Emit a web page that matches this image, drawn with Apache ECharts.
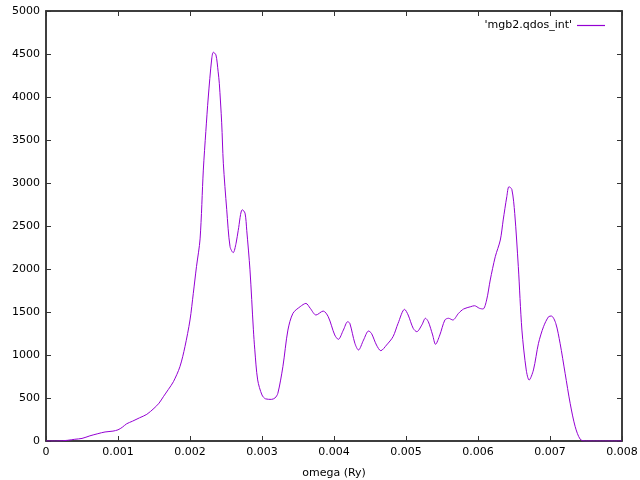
<!DOCTYPE html>
<html>
<head>
<meta charset="utf-8">
<script src="https://cdn.jsdelivr.net/npm/echarts@6/dist/echarts.min.js"></script>
<style>
  html, body { margin: 0; padding: 0; background: #fff; }
  #chart { width: 640px; height: 480px; }
</style>
</head>
<body>
<div id="chart"></div>
<script>
// omega in Ry
const omega = [
  0, 0.00015, 0.0003, 0.0004, 0.0005, 0.00061, 0.00072, 0.00082, 0.00093, 0.001,
  0.00106, 0.00112, 0.0012, 0.0013, 0.0014, 0.0015, 0.00157, 0.00163, 0.0017, 0.00177,
  0.00186, 0.00193, 0.002, 0.002046, 0.00209, 0.00214, 0.002185, 0.00222, 0.002254, 0.0023,
  0.002324, 0.00236, 0.00239, 0.002407, 0.00244, 0.002463, 0.00251, 0.002556, 0.0026, 0.00264,
  0.00267, 0.002726, 0.002764, 0.002788, 0.002833, 0.00288, 0.0029, 0.00294, 0.003, 0.00305,
  0.00313, 0.00318, 0.00322, 0.00329, 0.00336, 0.00343, 0.00353, 0.00361, 0.00367, 0.00375,
  0.00385, 0.00392, 0.00401, 0.00406, 0.00413, 0.00419, 0.00422, 0.00429, 0.00434, 0.00441,
  0.00448, 0.00452, 0.00459, 0.00465, 0.00473, 0.00482, 0.00489, 0.00498, 0.00503, 0.0051,
  0.00515, 0.00522, 0.00527, 0.00531, 0.00537, 0.00541, 0.00547, 0.00554, 0.00559, 0.00565,
  0.00573, 0.0058, 0.0059, 0.00595, 0.00602, 0.00607, 0.00612, 0.00617, 0.00624, 0.00631,
  0.00635, 0.0064, 0.00643, 0.00647, 0.00651, 0.00656, 0.00661, 0.00667, 0.00671, 0.00677,
  0.00684, 0.00691, 0.00698, 0.00702, 0.00708, 0.00714, 0.00721, 0.00728, 0.00735, 0.00742,
  0.00749, 0.008
];
const qdosInt = [
  0, 0, 8, 20, 30, 60, 85, 105, 115, 130,
  160, 200, 230, 270, 310, 380, 440, 515, 600, 690,
  864, 1097, 1407, 1717, 2027, 2350, 3150, 3600, 4000, 4430,
  4520, 4490, 4300, 4160, 3700, 3230, 2690, 2260, 2190, 2300,
  2450, 2690, 2650, 2450, 1990, 1300, 1060, 710, 535, 490,
  484, 500, 554, 864, 1290, 1485, 1562, 1600, 1543, 1465,
  1511, 1445, 1233, 1182, 1290, 1387, 1368, 1136, 1058, 1174,
  1279, 1252, 1116, 1050, 1116, 1213, 1368, 1531, 1465, 1310,
  1271, 1349, 1427, 1387, 1233, 1124, 1233, 1407, 1427, 1407,
  1485, 1535, 1562, 1573, 1543, 1535, 1640, 1872, 2143, 2337,
  2570, 2841, 2957, 2926, 2647, 2027, 1290, 826, 709, 826,
  1136, 1329, 1445, 1453, 1368, 1136, 787, 438, 166, 20,
  0, 0
];
const seriesName = "'mgb2.qdos_int'";
const xTicks = [0, 0.001, 0.002, 0.003, 0.004, 0.005, 0.006, 0.007, 0.008];

const font = 'DejaVu Sans, sans-serif';
const lineColor = '#9400d3';
const frameColor = '#333';

function frameLine() {
  return { show: true, onZero: false, lineStyle: { color: frameColor, width: 1.5 } };
}
function frameTicks() {
  return { show: true, inside: true, length: 5, lineStyle: { color: frameColor, width: 1 } };
}

const chart = echarts.init(document.getElementById('chart'));
chart.setOption({
  animation: false,
  grid: {
    left: 46, right: 18, top: 11, bottom: 39,
    containLabel: false, outerBoundsMode: 'none',
    show: true, borderColor: frameColor, borderWidth: 1.5, backgroundColor: 'transparent'
  },
  legend: {
    right: 30, top: 15,
    align: 'right',
    icon: 'rect', itemWidth: 28, itemHeight: 1.2,
    itemStyle: { color: lineColor },
    textStyle: { fontFamily: font, fontSize: 11, color: '#000' },
    data: [seriesName]
  },
  xAxis: [{
    type: 'value', min: 0, max: 0.008, interval: 0.001,
    name: 'omega (Ry)', nameLocation: 'middle', nameGap: 27,
    nameTextStyle: { fontFamily: font, fontSize: 11, color: '#000' },
    axisLine: frameLine(),
    axisTick: frameTicks(),
    axisLabel: { fontFamily: font, fontSize: 11, color: '#000', margin: 6,
      formatter: v => xTicks.find(t => Math.abs(t - v) < 1e-9).toString() },
    splitLine: { show: false }
  }, {
    type: 'value', position: 'top', min: 0, max: 0.008, interval: 0.001,
    axisLine: frameLine(),
    axisTick: frameTicks(),
    axisLabel: { show: false },
    splitLine: { show: false }
  }],
  yAxis: [{
    type: 'value', min: 0, max: 5000, interval: 500,
    axisLine: frameLine(),
    axisTick: frameTicks(),
    axisLabel: { fontFamily: font, fontSize: 11, color: '#000', margin: 6,
      formatter: v => String(v) },
    splitLine: { show: false }
  }, {
    type: 'value', position: 'right', min: 0, max: 5000, interval: 500,
    axisLine: frameLine(),
    axisTick: frameTicks(),
    axisLabel: { show: false },
    splitLine: { show: false }
  }],
  series: [{
    name: seriesName,
    type: 'line',
    xAxisIndex: 0, yAxisIndex: 0,
    data: omega.map((x, i) => [x, qdosInt[i]]),
    showSymbol: false,
    smooth: 0.3,
    color: lineColor,
    lineStyle: { width: 1, color: lineColor }
  }, {
    // empty series bound to the top and right axes so they draw as the frame
    type: 'line',
    xAxisIndex: 1, yAxisIndex: 1,
    data: [],
    silent: true
  }]
});
</script>
</body>
</html>
